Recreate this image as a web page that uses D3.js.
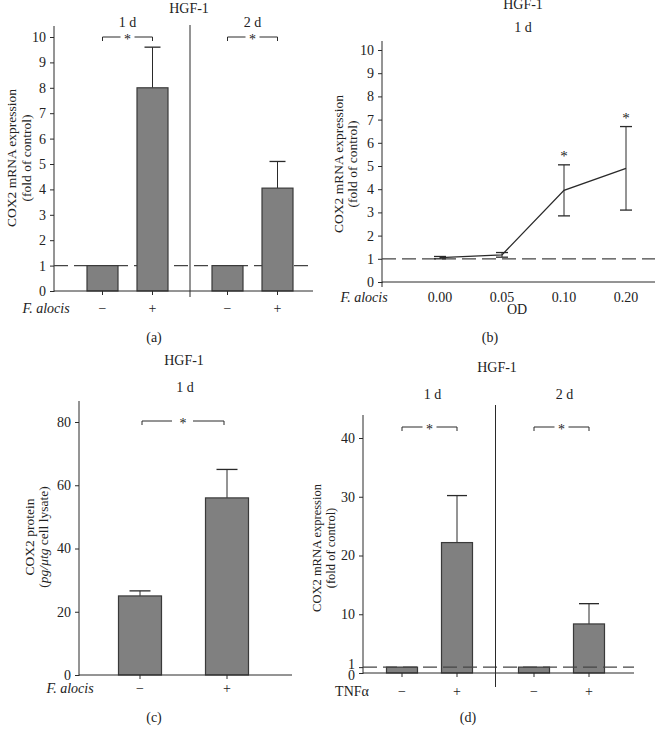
<!DOCTYPE html>
<html><head><meta charset="utf-8">
<script src="https://cdn.jsdelivr.net/npm/d3@7"></script>
<style>
body{margin:0;background:#fff;}
text{font-family:"Liberation Serif","DejaVu Serif",serif;fill:#222;}
</style></head>
<body>
<svg id="c" width="657" height="736"></svg>
<script>
// ---------- data ----------
const signsA = ["−", "+", "−", "+"];
const daysA = ["1 d", "2 d"];
const valuesA = [1, 8.0, 1, 4.05];
const errA = [0, 1.6, 0, 1.05];
const ticksA = [0, 1, 2, 3, 4, 5, 6, 7, 8, 9, 10];

const odB = ["0.00", "0.05", "0.10", "0.20"];
const valuesB = [1.05, 1.17, 3.95, 4.9];
const errB = [0.05, 0.1, 1.1, 1.8];
const sigB = [false, false, true, true];
const ticksB = [0, 1, 2, 3, 4, 5, 6, 7, 8, 9, 10];

const signsC = ["−", "+"];
const valuesC = [25, 56];
const errC = [1.6, 9];
const ticksC = [0, 20, 40, 60, 80];

const signsD = ["−", "+", "−", "+"];
const daysD = ["1 d", "2 d"];
const valuesD = [1, 22.2, 1, 8.35];
const errD = [0, 8, 0, 3.45];
const ticksD = [0, 1, 10, 20, 30, 40];

// ---------- drawing ----------
const svg = d3.select("#c");
const FILL = "#808080", STROKE = "#3a3a3a", LINE = "#2a2a2a", TXT = "#222";
const FS = 14, TS = 14, YL = 13.5;

function txt(g, x, y, s, opt = {}) {
  return g.append("text").attr("x", x).attr("y", y).attr("text-anchor", opt.anchor || "middle")
    .attr("fill", TXT)
    .attr("font-size", opt.size || FS).attr("font-style", opt.italic ? "italic" : null).text(s);
}
function yLabel(g, x, cy, lines, gap, size) {
  lines.forEach((l, i) => {
    const t = g.append("text").attr("transform", `translate(${x + i * (gap || 15)},${cy}) rotate(-90)`)
      .attr("text-anchor", "middle").attr("font-size", size || YL).attr("fill", TXT);
    if (Array.isArray(l)) {
      l.forEach(p => t.append("tspan").attr("font-style", p.i ? "italic" : null).text(p.t));
    } else t.text(l);
  });
}
function yAxis(g, y, ticks, x0, top, dyFn) {
  const ax = d3.axisLeft(y).tickValues(ticks).tickSize(4).tickSizeOuter(0).tickPadding(4);
  const a = g.append("g").attr("transform", `translate(${x0},0)`).call(ax);
  a.select(".domain").remove();
  a.selectAll("line").attr("stroke", LINE);
  a.selectAll("text").attr("font-size", FS).attr("fill", TXT)
    .attr("font-family", "Liberation Serif, serif");
  if (dyFn) a.selectAll("text").attr("dy", dyFn);
  g.append("line").attr("x1", x0).attr("x2", x0).attr("y1", top).attr("y2", y(0) + 1).attr("stroke", LINE);
}
function dashed(g, x1, x2, yy) {
  g.append("line").attr("x1", x1).attr("x2", x2).attr("y1", yy).attr("y2", yy)
    .attr("stroke", "#444").attr("stroke-width", 1.3).attr("stroke-dasharray", "14,6");
}
function bracket(g, x1, x2, yy) {
  const m = (x1 + x2) / 2;
  g.append("path").attr("d", `M${x1},${yy + 4}V${yy}H${m - 7}M${m + 7},${yy}H${x2}V${yy + 4}`)
    .attr("fill", "none").attr("stroke", LINE);
  txt(g, m, yy + 7, "*", { size: 14 });
}
function bars(g, xs, vals, errs, y, w, cap) {
  vals.forEach((v, i) => {
    if (errs[i] > 0) {
      g.append("line").attr("x1", xs[i]).attr("x2", xs[i]).attr("y1", y(v)).attr("y2", y(v + errs[i])).attr("stroke", LINE);
      g.append("line").attr("x1", xs[i] - cap).attr("x2", xs[i] + cap).attr("y1", y(v + errs[i])).attr("y2", y(v + errs[i])).attr("stroke", LINE).attr("stroke-width", 1.3);
    }
    g.append("rect").attr("x", xs[i] - w / 2).attr("y", y(v)).attr("width", w).attr("height", y(0) - y(v))
      .attr("fill", FILL).attr("stroke", STROKE).attr("stroke-width", 1.2);
  });
}
function xAxisLine(g, x0, x1, yy, xs) {
  g.append("line").attr("x1", x0).attr("x2", x1).attr("y1", yy).attr("y2", yy).attr("stroke", LINE);
  (xs || []).forEach(x => g.append("line").attr("x1", x).attr("x2", x).attr("y1", yy).attr("y2", yy + 4).attr("stroke", LINE));
}

// ---------- panel (a) ----------
{
  const g = svg.append("g");
  const y = d3.scaleLinear().domain([0, 10]).range([291, 37]);
  const slot = d3.scaleLinear().domain([0, 1]).range([102.5, 152.5]);
  const slots = [0, 1, 2.5, 3.5];
  const xs = slots.map(slot);
  txt(g, 189, 13, "HGF-1", { size: TS });
  yAxis(g, y, ticksA, 54, 26);
  dashed(g, 54, 313, y(1));
  bars(g, xs, valuesA, errA, y, 31, 8);
  xAxisLine(g, 54, 313, y(0), xs);
  g.append("line").attr("x1", slot(1.75)).attr("x2", slot(1.75)).attr("y1", 25).attr("y2", 297).attr("stroke", LINE);
  daysA.forEach((d, i) => {
    const a = xs[i * 2], b = xs[i * 2 + 1];
    txt(g, (a + b) / 2, 27, d, { size: TS });
    bracket(g, a, b, y(10));
  });
  yLabel(g, 16, 158, ["COX2 mRNA expression", "(fold of control)"]);
  txt(g, 46, 313, "F. alocis", { italic: true });
  signsA.forEach((s, i) => txt(g, xs[i], 313, s));
  txt(g, 154, 342, "(a)");
}

// ---------- panel (b) ----------
{
  const g = svg.append("g");
  const y = d3.scaleLinear().domain([0, 10]).range([282, 50]);
  const x = d3.scalePoint().domain(odB).range([440, 626]);
  txt(g, 523, 9, "HGF-1", { size: TS });
  txt(g, 523, 32, "1 d", { size: TS });
  yAxis(g, y, ticksB, 382, 41);
  dashed(g, 382, 655, y(1));
  xAxisLine(g, 382, 655, y(0), []);
  g.append("line").attr("x1", 382).attr("x2", 382).attr("y1", y(0)).attr("y2", y(0) + 5).attr("stroke", LINE);
  odB.forEach((d, i) => {
    const cx = x(d), lo = valuesB[i] - errB[i], hi = valuesB[i] + errB[i];
    g.append("line").attr("x1", cx).attr("x2", cx).attr("y1", y(lo)).attr("y2", y(hi)).attr("stroke", LINE);
    [lo, hi].forEach(v => g.append("line").attr("x1", cx - 6).attr("x2", cx + 6).attr("y1", y(v)).attr("y2", y(v)).attr("stroke", LINE).attr("stroke-width", 1.3));
    if (sigB[i]) txt(g, cx, y(hi) - 4, "*", { size: 15 });
  });
  const line = d3.line().x((d, i) => x(odB[i])).y(d => y(d));
  g.append("path").attr("d", line(valuesB)).attr("fill", "none").attr("stroke", LINE).attr("stroke-width", 1.3);
  odB.forEach(d => txt(g, x(d), 302, d));
  txt(g, 364, 302, "F. alocis", { italic: true });
  txt(g, 517, 314, "OD");
  txt(g, 490, 342, "(b)");
  yLabel(g, 343, 164, ["COX2 mRNA expression", "(fold of control)"], 14);
}

// ---------- panel (c) ----------
{
  const g = svg.append("g");
  const y = d3.scaleLinear().domain([0, 80]).range([675, 422]);
  const x = d3.scalePoint().domain(signsC.map((s, i) => i)).range([140, 227]);
  const xs = valuesC.map((v, i) => x(i));
  txt(g, 184, 365, "HGF-1", { size: TS });
  txt(g, 185, 392, "1 d", { size: TS });
  yAxis(g, y, ticksC, 79, 401);
  bars(g, xs, valuesC, errC, y, 43, 10.5);
  xAxisLine(g, 79, 292, y(0), xs);
  g.append("path").attr("d", `M142,425V421H172M193,421H224V425`).attr("fill", "none").attr("stroke", LINE);
  txt(g, 183, 428, "*", { size: 14 });
  yLabel(g, 34, 537, ["COX2 protein", [{ t: "(" }, { t: "pg/μtg", i: true }, { t: " cell lysate)" }]], 14);
  txt(g, 70, 693, "F. alocis", { italic: true });
  signsC.forEach((s, i) => txt(g, xs[i], 693, s));
  txt(g, 154, 722, "(c)");
}

// ---------- panel (d) ----------
{
  const g = svg.append("g");
  const y = d3.scaleLinear().domain([0, 40]).range([673, 438]);
  const slot = d3.scaleLinear().domain([0, 1]).range([402, 457]);
  const slots = [0, 1, 2.4, 3.4];
  const xs = slots.map(slot);
  txt(g, 497, 372, "HGF-1", { size: TS });
  yAxis(g, y, ticksD, 363, 415, d => d === 0 ? "0.45em" : d === 1 ? "0.12em" : "0.32em");
  bars(g, xs, valuesD, errD, y, 31, 10);
  dashed(g, 363, 634, y(1));
  xAxisLine(g, 363, 634, y(0), xs);
  g.append("line").attr("x1", slot(1.7)).attr("x2", slot(1.7)).attr("y1", 405).attr("y2", 687).attr("stroke", LINE);
  daysD.forEach((d, i) => {
    const a = xs[i * 2], b = xs[i * 2 + 1];
    txt(g, (a + b) / 2 + 3, 399, d, { size: TS });
    bracket(g, a, b, 427);
  });
  yLabel(g, 321, 548, ["COX2 mRNA expression", "(fold of control)"], 14, 12.5);
  txt(g, 352, 696, "TNFα");
  signsD.forEach((s, i) => txt(g, xs[i], 696, s));
  txt(g, 468, 722, "(d)");
}
</script>
</body></html>
